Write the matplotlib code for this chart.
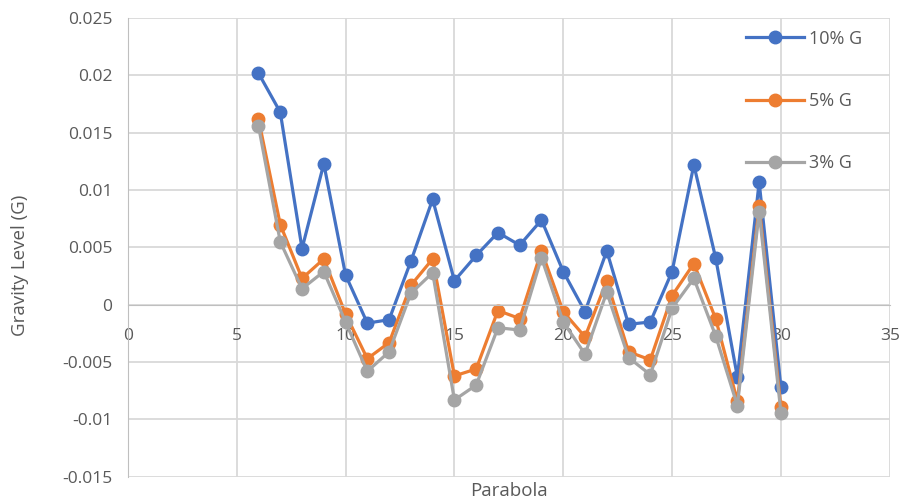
import matplotlib.pyplot as plt

# Gravity level per parabola
parabola = list(range(6, 31))
g10 = [0.0202, 0.0168, 0.0049, 0.0123, 0.0026, -0.0016, -0.0013, 0.0038, 0.0092, 0.0021,
       0.0043, 0.0063, 0.0052, 0.0074, 0.0029, -0.0006, 0.0047, -0.0017, -0.0015, 0.0029,
       0.0122, 0.0041, -0.0063, 0.0107, -0.0072]
g5 = [0.0162, 0.0070, 0.0023, 0.0040, -0.0008, -0.0047, -0.0033, 0.0017, 0.0040, -0.0062,
      -0.0056, -0.0005, -0.0012, 0.0047, -0.0006, -0.0028, 0.0021, -0.0041, -0.0048, 0.0008,
      0.0036, -0.0012, -0.0084, 0.0086, -0.0089]
g3 = [0.0156, 0.0055, 0.0014, 0.0029, -0.0015, -0.0058, -0.0041, 0.0010, 0.0028, -0.0083,
      -0.0070, -0.0020, -0.0022, 0.0041, -0.0015, -0.0043, 0.0011, -0.0046, -0.0061, -0.0003,
      0.0023, -0.0027, -0.0088, 0.0081, -0.0094]

labels = ['10% G', '5% G', '3% G']
colors = ['#4472C4', '#ED7D31', '#A5A5A5']
xticks = [0, 5, 10, 15, 20, 25, 30, 35]
yticks = [-0.015, -0.01, -0.005, 0, 0.005, 0.01, 0.015, 0.02, 0.025]
yticklabels = ['-0.015', '-0.01', '-0.005', '0', '0.005', '0.01', '0.015', '0.02', '0.025']

plt.rcParams['font.family'] = ['Open Sans', 'DejaVu Sans']
txt = '#595959'

fig = plt.figure(figsize=(9.07, 5.04), dpi=100)
ax = fig.add_axes([0.141, 0.054, 0.840, 0.910])

for series, lab, c in zip([g10, g5, g3], labels, colors):
    ax.plot(parabola, series, '-o', color=c, lw=2.3, ms=9, label=lab)

ax.set_xlim(0, 35)
ax.set_ylim(-0.015, 0.025)
ax.set_xticks(xticks)
ax.set_yticks(yticks)
ax.set_yticklabels(yticklabels)
ax.grid(True, color='#D9D9D9', lw=1.3)
ax.set_axisbelow(True)

for s in ['top', 'right']:
    ax.spines[s].set_visible(False)
ax.spines['bottom'].set_position(('data', 0))
ax.spines['bottom'].set_color('#BFBFBF')
ax.spines['left'].set_color('#BFBFBF')
ax.tick_params(length=0, labelsize=12.5, labelcolor=txt)
ax.tick_params(axis='x', pad=17)
ax.tick_params(axis='y', pad=11)

ax.text(0.5, -0.032, 'Parabola', transform=ax.transAxes, ha='center', va='center',
        fontsize=13.5, color=txt)
fig.text(0.022, 1 - 265 / 504, 'Gravity Level (G)', rotation=90, ha='center', va='center',
         fontsize=13.5, color=txt)

leg = ax.legend(loc='upper right', bbox_to_anchor=(0.985, 1.01), frameon=False,
                labelspacing=2.45, handlelength=3.2, handletextpad=0.3,
                fontsize=13, labelcolor=txt)

fig.savefig('out.png', dpi=100)
